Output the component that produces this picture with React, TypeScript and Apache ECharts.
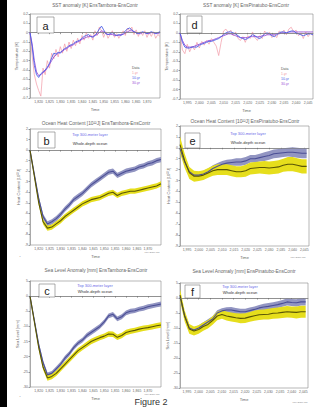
import React, { useEffect, useRef } from "react";
import * as echarts from "echarts";

// ---------- time coordinates ----------
const YEARS_TAM = [1816,1817,1818,1819,1820,1821,1822,1823,1824,1825,1826,1827,1828,1829,1830,1831,1832,1833,1834,1835,1836,1837,1838,1839,1840,1841,1842,1843,1844,1845,1846,1847,1848,1849,1850,1851,1852,1853,1854,1855,1856,1857,1858,1859,1860,1861,1862,1863,1864,1865,1866,1867,1868,1869,1870,1871,1872,1873,1874,1875,1876];
const YEARS_PIN = [1992,1993,1994,1995,1996,1997,1998,1999,2000,2001,2002,2003,2004,2005,2006,2007,2008,2009,2010,2011,2012,2013,2014,2015,2016,2017,2018,2019,2020,2021,2022,2023,2024,2025,2026,2027,2028,2029,2030,2031,2032,2033,2034,2035,2036,2037,2038,2039,2040,2041,2042,2043,2044,2045,2046,2047];
const YEARS_TAM2 = [1816,1818,1820,1822,1824,1826,1828,1830,1832,1834,1836,1838,1840,1842,1844,1846,1848,1850,1852,1854,1856,1858,1860,1862,1864,1866,1868,1870,1872,1874,1876];
const YEARS_PIN2 = [1992,1994,1996,1998,2000,2002,2004,2006,2008,2010,2012,2014,2016,2018,2020,2022,2024,2026,2028,2030,2032,2034,2036,2038,2040,2042,2044,2046];
const TICKS_TAM = [1820,1825,1830,1835,1840,1845,1850,1855,1860,1865,1870];
const TICKS_PIN = [1995,2000,2005,2010,2015,2020,2025,2030,2035,2040,2045];

// ---------- SST anomaly [K] ----------
const SST_TAM_1YR = [0.0,-0.25,-0.45,-0.55,-0.62,-0.68,-0.38,-0.45,-0.30,-0.38,-0.22,-0.28,-0.18,-0.26,-0.15,-0.22,-0.12,-0.20,-0.10,-0.17,-0.08,-0.14,-0.06,-0.12,-0.03,-0.08,0.00,-0.06,-0.02,-0.08,0.02,-0.03,0.06,0.02,-0.05,0.01,-0.06,-0.02,0.02,-0.05,-0.01,-0.06,-0.02,0.02,-0.03,0.05,0.02,0.06,-0.02,0.03,-0.04,0.01,-0.03,0.02,-0.05,0.00,-0.04,0.01,-0.06,-0.02,-0.04];
const SST_TAM_10YR = [0.00,-0.15,-0.35,-0.45,-0.48,-0.44,-0.42,-0.40,-0.37,-0.33,-0.27,-0.22,-0.23,-0.21,-0.22,-0.19,-0.17,-0.16,-0.14,-0.13,-0.12,-0.10,-0.09,-0.08,-0.06,-0.04,-0.03,-0.02,-0.04,-0.05,-0.03,0.00,0.04,0.07,0.03,-0.01,-0.02,-0.01,0.00,-0.02,-0.03,-0.02,-0.03,-0.01,0.02,0.04,0.05,0.03,0.01,0.00,-0.01,0.00,0.01,0.00,-0.01,0.00,0.01,0.00,-0.01,0.00,0.01];
const SST_TAM_30YR = [0.00,-0.12,-0.30,-0.42,-0.46,-0.45,-0.43,-0.41,-0.38,-0.34,-0.30,-0.26,-0.24,-0.22,-0.21,-0.20,-0.18,-0.17,-0.15,-0.14,-0.13,-0.11,-0.10,-0.09,-0.07,-0.06,-0.05,-0.04,-0.04,-0.04,-0.03,-0.02,0.00,0.02,0.01,-0.01,-0.02,-0.02,-0.02,-0.03,-0.03,-0.03,-0.02,-0.02,0.00,0.01,0.02,0.02,0.01,0.00,-0.01,-0.01,0.00,0.00,-0.01,-0.01,0.00,0.00,-0.01,-0.01,0.00];
const SST_PIN_1YR = [0.00,-0.18,-0.22,-0.12,-0.20,-0.14,-0.18,-0.10,-0.16,-0.09,-0.13,-0.08,-0.12,-0.06,-0.10,-0.14,-0.24,-0.10,0.02,0.04,0.00,0.03,-0.03,0.01,-0.06,-0.08,-0.04,-0.10,-0.03,-0.06,0.01,-0.05,-0.08,-0.03,-0.06,0.02,-0.02,0.01,-0.05,-0.02,-0.05,0.02,0.00,0.03,-0.02,0.04,0.06,0.01,0.03,-0.03,0.00,-0.06,0.01,-0.04,0.00,-0.03];
const SST_PIN_10YR = [0.00,-0.10,-0.15,-0.16,-0.16,-0.15,-0.15,-0.15,-0.13,-0.12,-0.11,-0.10,-0.09,-0.09,-0.08,-0.07,-0.06,-0.04,-0.02,0.00,0.01,0.01,0.00,-0.01,-0.03,-0.05,-0.06,-0.07,-0.06,-0.04,-0.02,-0.03,-0.05,-0.06,-0.04,-0.01,0.00,-0.01,-0.03,-0.04,-0.02,0.00,0.01,0.01,0.00,0.01,0.02,0.02,0.00,-0.01,-0.02,-0.03,-0.02,-0.01,-0.01,-0.02];
const SST_PIN_30YR = [0.00,-0.08,-0.13,-0.15,-0.15,-0.15,-0.14,-0.13,-0.12,-0.11,-0.10,-0.09,-0.08,-0.08,-0.07,-0.06,-0.05,-0.04,-0.03,-0.02,-0.01,-0.01,-0.02,-0.03,-0.04,-0.05,-0.05,-0.05,-0.05,-0.04,-0.04,-0.04,-0.04,-0.04,-0.03,-0.03,-0.02,-0.02,-0.02,-0.02,-0.01,-0.01,0.00,0.00,0.00,0.01,0.01,0.01,0.01,0.01,0.01,0.01,0.01,0.01,0.01,0.01];

// ---------- Ocean heat content [10^22 J] ----------
const OHC_TAM_TOP = [0,-2.3,-4.6,-6.3,-7.0,-6.8,-6.5,-6.1,-5.6,-5.2,-4.7,-4.4,-4.1,-3.7,-3.3,-3.0,-2.7,-2.4,-2.1,-2.0,-2.4,-2.2,-2.0,-1.9,-1.8,-1.6,-1.5,-1.3,-1.2,-1.0,-0.9];
const OHC_TAM_TOP_SPR = [0.05,0.15,0.2,0.25,0.25,0.25,0.25,0.25,0.25,0.25,0.25,0.25,0.25,0.25,0.25,0.25,0.25,0.25,0.25,0.25,0.25,0.25,0.25,0.25,0.25,0.25,0.25,0.25,0.25,0.25,0.25];
const OHC_TAM_ALL = [0,-2.5,-5.0,-6.8,-7.4,-7.3,-7.0,-6.7,-6.3,-6.0,-5.7,-5.4,-5.1,-4.9,-4.7,-4.6,-4.5,-4.3,-4.1,-4.0,-4.3,-4.1,-4.0,-3.9,-3.9,-3.8,-3.7,-3.6,-3.5,-3.4,-3.2];
const OHC_TAM_ALL_SPR = [0.05,0.15,0.2,0.25,0.25,0.25,0.25,0.25,0.25,0.25,0.25,0.25,0.25,0.25,0.25,0.25,0.25,0.25,0.25,0.25,0.25,0.25,0.25,0.25,0.25,0.25,0.25,0.25,0.25,0.25,0.25];
const OHC_PIN_TOP = [-0.1,-1.3,-2.2,-2.5,-2.5,-2.4,-2.2,-1.9,-1.7,-1.5,-1.4,-1.35,-1.3,-1.3,-1.2,-1.0,-1.0,-0.9,-0.8,-0.7,-0.55,-0.5,-0.45,-0.4,-0.4,-0.45,-0.5,-0.5];
const OHC_PIN_TOP_SPR = [0.3,0.3,0.3,0.3,0.3,0.3,0.3,0.3,0.3,0.3,0.3,0.3,0.35,0.35,0.35,0.35,0.35,0.35,0.4,0.4,0.4,0.4,0.4,0.4,0.45,0.45,0.45,0.45];
const OHC_PIN_ALL = [0.3,-1.2,-2.3,-2.6,-2.6,-2.5,-2.3,-2.1,-2.0,-2.0,-2.0,-2.1,-2.2,-2.2,-2.1,-1.9,-1.85,-1.8,-1.8,-1.85,-1.8,-1.75,-1.6,-1.5,-1.5,-1.6,-1.7,-1.7];
const OHC_PIN_ALL_SPR = [0.75,0.65,0.55,0.5,0.45,0.45,0.45,0.45,0.5,0.5,0.5,0.5,0.5,0.5,0.55,0.55,0.55,0.55,0.6,0.6,0.6,0.6,0.6,0.65,0.65,0.65,0.65,0.65];

// ---------- Sea level anomaly [mm] ----------
const SLA_TAM_TOP = [0,-8,-16,-22,-26,-25.5,-24,-22.5,-20.5,-19,-17,-15.5,-14.5,-13,-12,-11,-10,-8.5,-6.5,-6,-7.5,-6.8,-5.5,-5,-4.8,-4.3,-4,-3.5,-3.2,-2.9,-2.6];
const SLA_TAM_TOP_SPR = [0.2,0.5,0.7,0.8,0.8,0.8,0.8,0.8,0.8,0.8,0.8,0.8,0.8,0.8,0.8,0.8,0.8,0.8,0.8,0.8,0.8,0.8,0.8,0.8,0.8,0.8,0.8,0.8,0.8,0.8,0.8];
const SLA_TAM_ALL = [0,-8.5,-17,-23.5,-27,-26.5,-25.5,-24,-22.5,-21,-19.5,-18,-17,-16,-15,-14.3,-13.7,-13.2,-12.5,-12.6,-13.6,-13,-12,-11.6,-11.3,-10.9,-10.6,-10.4,-10.1,-9.8,-9.5];
const SLA_TAM_ALL_SPR = [0.2,0.5,0.7,0.8,0.9,0.9,0.9,0.9,0.9,0.9,0.9,0.9,0.9,0.9,0.9,0.9,0.9,0.9,0.9,0.9,0.9,0.9,0.9,0.9,0.9,0.9,0.9,0.9,0.9,0.9,0.9];
const SLA_PIN_TOP = [0.5,-6,-10,-10.7,-10,-9,-8,-7,-5,-4.3,-4,-4,-4.3,-4.6,-4.6,-4.2,-3.8,-3.3,-3.0,-2.8,-2.5,-2.2,-1.8,-1.3,-1.5,-1.6,-1.3,-1.3];
const SLA_PIN_TOP_SPR = [0.9,0.9,0.9,0.9,0.9,0.9,0.9,0.9,0.9,0.9,0.9,1.0,1.0,1.0,1.0,1.0,1.0,1.0,1.1,1.1,1.1,1.1,1.1,1.2,1.2,1.2,1.2,1.2];
const SLA_PIN_ALL = [1.0,-6,-10.3,-11,-10.5,-9.5,-8.8,-7.5,-6,-5.5,-6,-6.3,-6.6,-6.8,-6.7,-6.3,-5.9,-5.6,-5.5,-5.4,-5.1,-5.0,-4.8,-4.6,-4.7,-4.8,-4.6,-4.6];
const SLA_PIN_ALL_SPR = [2.0,1.8,1.6,1.5,1.4,1.4,1.4,1.4,1.4,1.4,1.5,1.5,1.5,1.6,1.6,1.6,1.7,1.7,1.7,1.8,1.8,1.8,1.9,1.9,1.9,2.0,2.0,2.0];

// ---------- colours & fonts ----------
const FONT = "Liberation Sans, DejaVu Sans, sans-serif";
const C_1YR = "#f29aa6";
const C_10YR = "#4a5ee8";
const C_30YR = "#9a52d6";
const C_TOP_BAND = "#9295c2";
const C_TOP_LINE = "#4b4f96";
const C_ALL_BAND = "#e6de1c";
const C_ALL_LINE = "#5a5606";

type Panel = {
  left: number; top: number; width: number; height: number;
  xmin: number; xmax: number; ticks: number[];
  ymin: number; ymax: number; yint: number; yname: string;
};

const PANELS: Panel[] = [
  { left: 30, top: 14, width: 130, height: 84, xmin: 1816, xmax: 1876, ticks: TICKS_TAM, ymin: -0.7, ymax: 0.2, yint: 0.1, yname: "Temperature [K]" },
  { left: 180, top: 14, width: 133, height: 85, xmin: 1992, xmax: 2047, ticks: TICKS_PIN, ymin: -0.7, ymax: 0.2, yint: 0.1, yname: "Temperature [K]" },
  { left: 30, top: 129, width: 131, height: 116, xmin: 1816, xmax: 1876, ticks: TICKS_TAM, ymin: -9, ymax: 2, yint: 1, yname: "Heat Content [10²²J]" },
  { left: 180, top: 126, width: 129, height: 120, xmin: 1992, xmax: 2047, ticks: TICKS_PIN, ymin: -9, ymax: 2, yint: 1, yname: "Heat Content [10²²J]" },
  { left: 30, top: 281, width: 131, height: 106, xmin: 1816, xmax: 1876, ticks: TICKS_TAM, ymin: -30, ymax: 5, yint: 5, yname: "Sea Level [mm]" },
  { left: 180, top: 283, width: 128, height: 105, xmin: 1992, xmax: 2047, ticks: TICKS_PIN, ymin: -30, ymax: 5, yint: 5, yname: "Sea Level [mm]" },
];

const pairs = (xs: number[], ys: number[]) => xs.map((x, i) => [x, ys[i]]);

function lineSeries(idx: number, xs: number[], ys: number[], color: string, width: number, zero = false) {
  const s: any = {
    type: "line", xAxisIndex: idx, yAxisIndex: idx, data: pairs(xs, ys),
    symbol: "none", showSymbol: false, silent: true, z: 3,
    lineStyle: { color, width }, itemStyle: { color },
  };
  if (zero) {
    s.markLine = {
      silent: true, symbol: ["none", "none"], label: { show: false },
      lineStyle: { color: "#777", width: 0.6, type: "solid" },
      data: [{ yAxis: 0 }],
    };
  }
  return s;
}

function bandSeries(idx: number, xs: number[], mean: number[], spr: number[], fill: string) {
  const upper = xs.map((x, i) => [x, mean[i] + spr[i]]);
  const lower = xs.map((x, i) => [x, mean[i] - spr[i]]);
  return {
    type: "custom", xAxisIndex: idx, yAxisIndex: idx, silent: true, z: 2,
    data: [[xs[0], mean[0]]],
    renderItem: (_p: any, api: any) => {
      const pts = upper.map((p) => api.coord(p)).concat(lower.slice().reverse().map((p) => api.coord(p)));
      return { type: "polygon", shape: { points: pts }, style: { fill, stroke: "none" } };
    },
  };
}

function txt(x: number, y: number, text: string, size: number, fill: string, align = "center", weight = "normal") {
  return {
    type: "text", x, y, z: 20,
    style: { text, fontSize: size, fill, align, verticalAlign: "middle", fontFamily: FONT, fontWeight: weight },
  };
}
function box(x: number, y: number, w: number, h: number, letter: string) {
  return [
    { type: "rect", z: 19, shape: { x, y, width: w, height: h }, style: { fill: "#fff", stroke: "#777", lineWidth: 0.6 } },
    txt(x + w / 2, y + h / 2 + 0.5, letter, 11, "#222"),
  ];
}

export default function App() {
  const ref = useRef<HTMLDivElement>(null);
  useEffect(() => {
    if (!ref.current) return;
    const chart = echarts.init(ref.current, undefined, { renderer: "svg" });

    const grid = PANELS.map((p) => ({
      left: p.left, top: p.top, width: p.width, height: p.height, show: true,
      borderColor: "#888", borderWidth: 0.6, backgroundColor: "rgba(0,0,0,0)",
    }));
    const xAxis = PANELS.map((p, i) => ({
      type: "value", gridIndex: i, min: p.xmin, max: p.xmax,
      axisLine: { show: true, lineStyle: { color: "#888", width: 0.6 } },
      axisTick: { show: true, customValues: p.ticks, length: 1.5, lineStyle: { color: "#555", width: 0.6 } },
      axisLabel: { show: true, customValues: p.ticks, fontSize: 3.5, color: "#666", margin: 2, fontFamily: FONT },
      splitLine: { show: false },
      name: "Time", nameLocation: "middle", nameGap: 9,
      nameTextStyle: { fontSize: 4, color: "#666", fontFamily: FONT },
    }));
    const yAxis = PANELS.map((p, i) => ({
      type: "value", gridIndex: i, min: p.ymin, max: p.ymax, interval: p.yint,
      axisLine: { show: true, lineStyle: { color: "#888", width: 0.6 } },
      axisTick: { show: true, length: 1.5, lineStyle: { color: "#555", width: 0.6 } },
      axisLabel: { show: true, fontSize: 3.5, color: "#666", margin: 2, fontFamily: FONT },
      splitLine: { show: false },
      name: p.yname, nameLocation: "middle", nameGap: 10,
      nameTextStyle: { fontSize: 4, color: "#666", fontFamily: FONT },
    }));

    const series: any[] = [
      // a
      lineSeries(0, YEARS_TAM, SST_TAM_1YR, C_1YR, 0.7, true),
      lineSeries(0, YEARS_TAM, SST_TAM_30YR, C_30YR, 0.9),
      lineSeries(0, YEARS_TAM, SST_TAM_10YR, C_10YR, 0.9),
      // d
      lineSeries(1, YEARS_PIN, SST_PIN_1YR, C_1YR, 0.7, true),
      lineSeries(1, YEARS_PIN, SST_PIN_30YR, C_30YR, 0.9),
      lineSeries(1, YEARS_PIN, SST_PIN_10YR, C_10YR, 0.9),
      // b
      bandSeries(2, YEARS_TAM2, OHC_TAM_TOP, OHC_TAM_TOP_SPR, C_TOP_BAND),
      bandSeries(2, YEARS_TAM2, OHC_TAM_ALL, OHC_TAM_ALL_SPR, C_ALL_BAND),
      lineSeries(2, YEARS_TAM2, OHC_TAM_TOP, C_TOP_LINE, 1.1, true),
      lineSeries(2, YEARS_TAM2, OHC_TAM_ALL, C_ALL_LINE, 1.1),
      // e
      bandSeries(3, YEARS_PIN2, OHC_PIN_TOP, OHC_PIN_TOP_SPR, C_TOP_BAND),
      bandSeries(3, YEARS_PIN2, OHC_PIN_ALL, OHC_PIN_ALL_SPR, C_ALL_BAND),
      lineSeries(3, YEARS_PIN2, OHC_PIN_TOP, C_TOP_LINE, 1.1, true),
      lineSeries(3, YEARS_PIN2, OHC_PIN_ALL, C_ALL_LINE, 1.1),
      // c
      bandSeries(4, YEARS_TAM2, SLA_TAM_TOP, SLA_TAM_TOP_SPR, C_TOP_BAND),
      bandSeries(4, YEARS_TAM2, SLA_TAM_ALL, SLA_TAM_ALL_SPR, C_ALL_BAND),
      lineSeries(4, YEARS_TAM2, SLA_TAM_TOP, C_TOP_LINE, 1.1, true),
      lineSeries(4, YEARS_TAM2, SLA_TAM_ALL, C_ALL_LINE, 1.1),
      // f
      bandSeries(5, YEARS_PIN2, SLA_PIN_TOP, SLA_PIN_TOP_SPR, C_TOP_BAND),
      bandSeries(5, YEARS_PIN2, SLA_PIN_ALL, SLA_PIN_ALL_SPR, C_ALL_BAND),
      lineSeries(5, YEARS_PIN2, SLA_PIN_TOP, C_TOP_LINE, 1.1, true),
      lineSeries(5, YEARS_PIN2, SLA_PIN_ALL, C_ALL_LINE, 1.1),
    ];

    const graphic: any[] = [
      { type: "rect", z: 20, shape: { x: 0, y: 0, width: 7, height: 407 }, style: { fill: "#000" } },
      txt(95, 5, "SST anomaly [K] EnsTambora-EnsContr", 4.8, "#666"),
      txt(246, 5, "SST anomaly [K] EnsPinatubo-EnsContr", 4.8, "#666"),
      txt(96, 123, "Ocean Heat Content [10²²J] EnsTambora-EnsContr", 4.8, "#666"),
      txt(245, 121, "Ocean Heat Content [10²²J] EnsPinatubo-EnsContr", 4.8, "#666"),
      txt(96, 270, "Sea Level Anomaly [mm] EnsTambora-EnsContr", 4.8, "#666"),
      txt(244, 271, "Sea Level Anomaly [mm] EnsPinatubo-EnsContr", 4.8, "#666"),
      ...box(37, 17, 17, 16, "a"),
      ...box(187, 16, 15, 17, "d"),
      ...box(38, 132, 17, 16, "b"),
      ...box(185, 133, 15, 15, "e"),
      ...box(39, 284, 16, 13, "c"),
      ...box(185, 285, 15, 13, "f"),
      // SST legends
      txt(132, 68, "Data", 3.5, "#555", "left"),
      txt(132, 73, "1-yr", 3.5, C_1YR, "left"),
      txt(132, 78, "10-yr", 3.5, C_10YR, "left"),
      txt(132, 83, "30-yr", 3.5, C_30YR, "left"),
      txt(281, 69, "Data", 3.5, "#555", "left"),
      txt(281, 74, "1-yr", 3.5, C_1YR, "left"),
      txt(281, 79, "10-yr", 3.5, C_10YR, "left"),
      txt(281, 84, "30-yr", 3.5, C_30YR, "left"),
      // band legends
      txt(90, 134.5, "Top 300-meter layer", 4, "#6a6ae8"),
      txt(90, 143, "Whole-depth ocean", 4, "#333"),
      txt(248, 133, "Top 300-meter layer", 4, "#6a6ae8"),
      txt(248, 142, "Whole-depth ocean", 4, "#333"),
      txt(95, 285, "Top 300-meter layer", 4, "#6a6ae8"),
      txt(95, 291, "Whole-depth ocean", 4, "#333"),
      txt(240, 286, "Top 300-meter layer", 4, "#6a6ae8"),
      txt(240, 292, "Whole-depth ocean", 4, "#333"),
      // small marks
      txt(152, 252, "MPI-ESM-CR", 2.5, "#888"),
      txt(298, 257, "MPI-ESM-CR", 2.5, "#888"),
      txt(152, 394, "MPI-ESM-CR", 2.5, "#888"),
      txt(300, 402, "MPI-ESM-CR", 2.5, "#888"),
      txt(20, 257, "•", 3, "#999"),
      txt(20, 397, "•", 3, "#999"),
      txt(151, 401.5, "Figure 2", 9, "#333"),
    ];

    chart.setOption({
      animation: false,
      backgroundColor: "#fff",
      grid, xAxis, yAxis, series, graphic,
    });
    return () => chart.dispose();
  }, []);

  return (
    <div
      ref={ref}
      style={{ position: "fixed", left: 0, top: 0, width: 325, height: 407, background: "#fff" }}
    />
  );
}
